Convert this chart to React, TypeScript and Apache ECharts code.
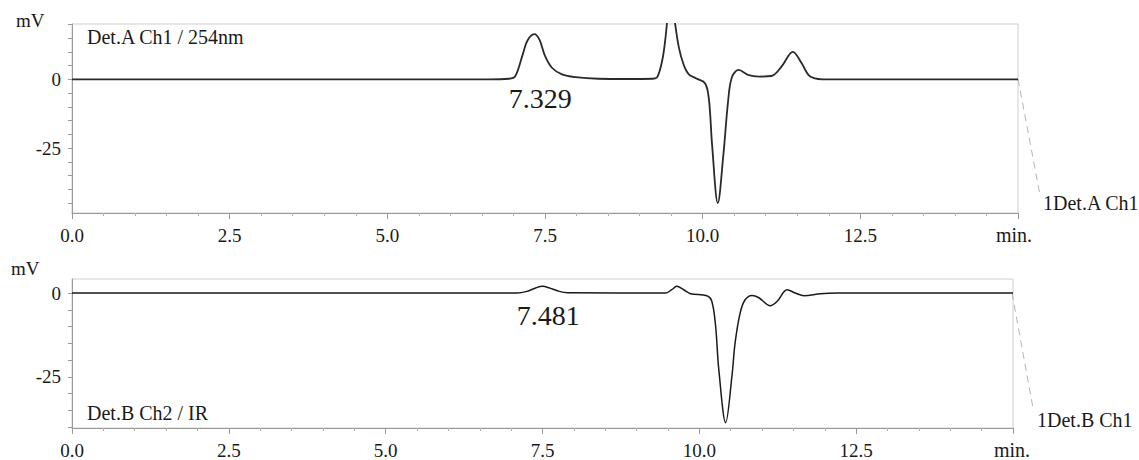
import React, { useEffect, useRef } from "react";
import * as echarts from "echarts";

const FONT = "Liberation Serif, DejaVu Serif, serif";

// Detector A (254 nm) — retention time (min) and signal (mV)
const timesA = [0, 6.6, 6.93, 7.03, 7.14, 7.22, 7.33, 7.41, 7.5, 7.61, 7.77, 7.98, 8.35, 8.8, 9.2, 9.28, 9.36, 9.41, 9.46, 9.5, 9.54, 9.62, 9.7, 9.78, 9.9, 10.04, 10.1, 10.15, 10.24, 10.33, 10.4, 10.46, 10.57, 10.73, 10.9, 11.09, 11.25, 11.43, 11.57, 11.68, 11.78, 11.9, 15.0];
const valuesA = [0, 0, 0.2, 1.2, 8.5, 14, 16.4, 14.5, 8.5, 4.2, 1.8, 0.8, 0.2, 0.1, 0.2, 0.8, 7, 15, 26, 30, 24, 11.9, 5.2, 1.8, 0.3, -1.5, -7.5, -24, -45, -27, -8.7, 0.5, 3.4, 1.5, 1.0, 1.2, 4.6, 10, 5.8, 1.5, 0.3, 0, 0];

// Detector B (IR)
const timesB = [0, 7.1, 7.25, 7.4, 7.5, 7.6, 7.75, 7.9, 9.46, 9.56, 9.64, 9.75, 9.86, 10.12, 10.2, 10.26, 10.31, 10.42, 10.52, 10.57, 10.65, 10.73, 10.84, 10.95, 11.13, 11.24, 11.4, 11.53, 11.67, 11.93, 12.2, 15.0];
const valuesB = [0, 0, 0.5, 1.6, 2.0, 1.6, 0.6, 0.1, 0, 1.0, 2.0, 1.0, -0.2, -0.8, -2.5, -10, -22.8, -38.7, -24.8, -14.9, -6, -2, -0.7, -1.4, -3.8, -2.5, 1.0, 0, -0.8, -0.2, 0, 0];

const peakA = { t: 7.329, label: "7.329" };
const peakB = { t: 7.481, label: "7.481" };

const xTickLabels = [0, 2.5, 5, 7.5, 10, 12.5];
const yTicksA = [-45, -40, -35, -30, -25, -20, -15, -10, -5, 0, 5, 10, 15, 20];
const yLabelsA = [0, -25];
const yTicksB = [-40, -35, -30, -25, -20, -15, -10, -5, 0];
const yLabelsB = [0, -25];

const axisColor = "#9a9a9a";
const textColor = "#1a1a1a";

function makeX(gridIndex: number) {
  return {
    type: "value",
    gridIndex,
    min: 0,
    max: 15,
    interval: 2.5,
    axisLine: { show: true, onZero: false, lineStyle: { color: axisColor, width: 1 } },
    axisTick: { show: true, length: 6, lineStyle: { color: axisColor } },
    minorTick: { show: true, splitNumber: 5, length: 3, lineStyle: { color: "#b0b0b0" } },
    splitLine: { show: false },
    minorSplitLine: { show: false },
    axisLabel: {
      customValues: xTickLabels,
      formatter: (v: number) => v.toFixed(1),
      margin: 13,
      fontSize: 19,
      fontFamily: FONT,
      color: textColor,
    },
  };
}

function makeY(gridIndex: number, min: number, max: number, ticks: number[], labels: number[]) {
  return {
    type: "value",
    gridIndex,
    min,
    max,
    axisLine: { show: true, onZero: false, lineStyle: { color: axisColor, width: 1 } },
    axisTick: { show: true, length: 4, customValues: ticks, lineStyle: { color: axisColor } },
    splitLine: { show: false },
    axisLabel: {
      customValues: labels,
      margin: 11,
      fontSize: 19,
      fontFamily: FONT,
      color: textColor,
    },
  };
}

function pairs(ts: number[], vs: number[]) {
  return ts.map((t, i) => [t, vs[i]]);
}

export default function App() {
  const ref = useRef<HTMLDivElement>(null);
  useEffect(() => {
    if (!ref.current) return;
    const chart = echarts.init(ref.current, null, { renderer: "svg" });
    const text = (x: number, y: number, s: string, size = 19, align = "left") => ({
      type: "text",
      x,
      y,
      style: {
        text: s,
        fontSize: size,
        fontFamily: FONT,
        fill: textColor,
        align,
        verticalAlign: "middle",
      },
    });
    chart.setOption({
      animation: false,
      backgroundColor: "#ffffff",
      textStyle: { fontFamily: FONT },
      grid: [
        { left: 72, top: 24, width: 946, height: 189, show: true, borderColor: "#cfcfcf", borderWidth: 1 },
        { left: 72, top: 279, width: 941, height: 149, show: true, borderColor: "#cfcfcf", borderWidth: 1 },
      ],
      xAxis: [makeX(0), makeX(1)],
      yAxis: [
        makeY(0, -48.6, 20.1, yTicksA, yLabelsA),
        makeY(1, -40.3, 4.2, yTicksB, yLabelsB),
      ],
      series: [
        {
          type: "line",
          xAxisIndex: 0,
          yAxisIndex: 0,
          data: pairs(timesA, valuesA),
          showSymbol: false,
          smooth: 0.35,
          clip: true,
          lineStyle: { color: "#2a2a2a", width: 1.8 },
          markPoint: {
            symbol: "circle",
            symbolSize: 0,
            data: [{ coord: [peakA.t, 0], value: peakA.label }],
            label: {
              show: true,
              formatter: peakA.label,
              offset: [6, 19],
              fontSize: 28,
              fontFamily: FONT,
              color: textColor,
            },
          },
        },
        {
          type: "line",
          xAxisIndex: 1,
          yAxisIndex: 1,
          data: pairs(timesB, valuesB),
          showSymbol: false,
          smooth: 0.35,
          clip: true,
          lineStyle: { color: "#1a1a1a", width: 1.5 },
          markPoint: {
            symbol: "circle",
            symbolSize: 0,
            data: [{ coord: [peakB.t, 0], value: peakB.label }],
            label: {
              show: true,
              formatter: peakB.label,
              offset: [7, 22],
              fontSize: 28,
              fontFamily: FONT,
              color: textColor,
            },
          },
        },
      ],
      graphic: [
        text(16, 20, "mV"),
        text(87, 37, "Det.A Ch1 / 254nm", 20),
        text(1014, 235, "min.", 20, "center"),
        text(1043, 203, "1Det.A Ch1", 20),
        {
          type: "line",
          shape: { x1: 1018, y1: 79, x2: 1040, y2: 195 },
          style: { stroke: "#b5b5b5", lineWidth: 1, lineDash: [7, 5] },
        },
        text(11, 268, "mV"),
        text(87, 413, "Det.B Ch2 / IR", 20),
        text(1012, 450, "min.", 20, "center"),
        text(1037, 420, "1Det.B Ch1", 20),
        {
          type: "line",
          shape: { x1: 1012, y1: 293, x2: 1033, y2: 408 },
          style: { stroke: "#b5b5b5", lineWidth: 1, lineDash: [7, 5] },
        },
      ],
    });
    return () => chart.dispose();
  }, []);
  return (
    <div
      ref={ref}
      style={{ position: "fixed", left: 0, top: 0, width: 1139, height: 460 }}
    />
  );
}
